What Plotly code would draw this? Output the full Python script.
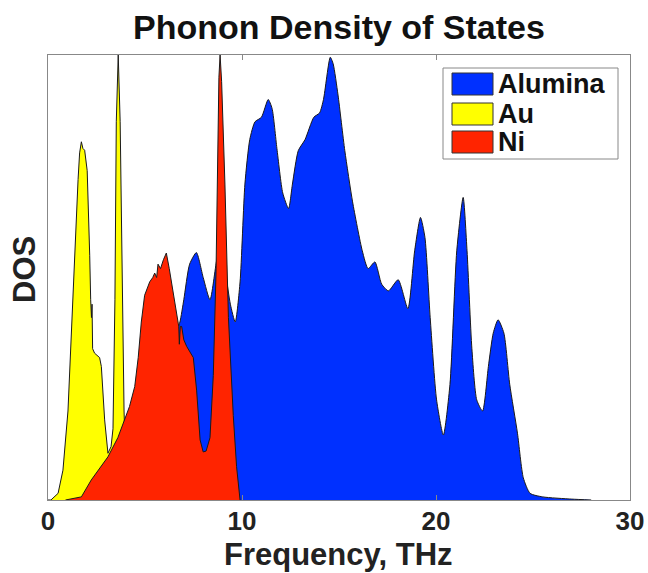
import plotly.graph_objects as go

# ---------------- data ----------------
alumina_freq = [3.5, 4.0, 4.5, 5.0, 5.5, 6.0, 6.5, 6.8, 7.0, 7.3, 7.65, 8.0, 8.35, 8.7, 8.9,
                9.12, 9.4, 9.65, 9.9, 10.15, 10.4, 10.67, 11.0, 11.35, 11.55, 11.8, 12.1,
                12.4, 12.6, 12.9, 13.25, 13.7, 14.0, 14.2, 14.55, 14.7, 14.95, 15.3, 15.7,
                16.2, 16.5, 16.85, 17.2, 17.55, 18.05, 18.55, 18.9, 19.2, 19.43, 19.7, 20.03,
                20.38, 20.72, 21.07, 21.4, 21.6, 21.85, 22.1, 22.4, 22.7, 22.95, 23.2, 23.5,
                23.8, 24.2, 24.5, 24.85, 25.5, 27.0, 28.0]
alumina_dos = [0.0, 0.02, 0.06, 0.12, 0.2, 0.28, 0.36, 0.40, 0.45, 0.53, 0.556, 0.50, 0.45, 0.54, 0.57,
               0.52, 0.44, 0.40, 0.49, 0.71, 0.81, 0.85, 0.86, 0.90, 0.88, 0.79, 0.69,
               0.655, 0.71, 0.785, 0.81, 0.86, 0.87, 0.90, 0.995, 0.98, 0.91, 0.785, 0.67,
               0.56, 0.52, 0.535, 0.485, 0.47, 0.495, 0.43, 0.56, 0.635, 0.59, 0.41, 0.225,
               0.146, 0.26, 0.56, 0.68, 0.56, 0.34, 0.225, 0.20, 0.30, 0.375, 0.405, 0.375,
               0.26, 0.15, 0.05, 0.015, 0.007, 0.002, 0.0]

au_freq = [0.0, 0.15, 0.52, 0.77, 1.03, 1.2, 1.37, 1.55, 1.63, 1.72, 1.8, 1.89, 2.02, 2.1,
           2.15, 2.2, 2.24, 2.27, 2.3, 2.4, 2.66, 2.75, 2.92, 3.09, 3.25, 3.35, 3.45, 3.52,
           3.62, 3.72, 3.82, 3.92, 4.0, 4.1, 4.2]
au_dos = [0.0, 0.0, 0.015, 0.067, 0.2, 0.38, 0.55, 0.72, 0.78, 0.805, 0.79, 0.786, 0.74, 0.64,
          0.55, 0.45, 0.41, 0.44, 0.34, 0.33, 0.32, 0.30, 0.18, 0.105, 0.12, 0.16, 0.45, 0.85,
          1.0, 0.85, 0.5, 0.2, 0.08, 0.02, 0.0]

ni_freq = [0.9, 1.3, 1.72, 2.23, 2.7, 3.09, 3.6, 3.95, 4.2, 4.47, 4.65, 4.81, 4.98, 5.24,
           5.4, 5.5, 5.6, 5.67, 5.8, 5.95, 6.1, 6.25, 6.37, 6.63, 6.74, 6.77, 6.82, 6.89,
           7.0, 7.15, 7.49, 7.66, 7.84, 8.0, 8.15, 8.35, 8.52, 8.66, 8.75, 8.81, 8.87, 8.95,
           9.12, 9.3, 9.55, 9.72, 9.9]
ni_dos = [0.0, 0.004, 0.007, 0.045, 0.075, 0.097, 0.14, 0.18, 0.21, 0.255, 0.32, 0.40, 0.46, 0.49,
          0.50, 0.51, 0.50, 0.53, 0.52, 0.54, 0.555, 0.52, 0.487, 0.42, 0.39, 0.35, 0.39, 0.39,
          0.36, 0.345, 0.32, 0.247, 0.135, 0.108, 0.11, 0.14, 0.28, 0.51, 0.75, 0.95, 1.0, 0.94,
          0.71, 0.41, 0.19, 0.075, 0.0]

series_names = ["Alumina", "Au", "Ni"]
x_ticks = [0, 10, 20, 30]

# ---------------- style ----------------
FONT = "Liberation Sans, Arial, Helvetica, sans-serif"
colors = {"Alumina": "#0030FF", "Au": "#FFFF00", "Ni": "#FF2400"}
edge = "#1a1a1a"
W, H = 648, 573
L, R, T, B = 48, 18, 55, 73

fig = go.Figure()
for name, xs, ys, shape in [("Alumina", alumina_freq, alumina_dos, "spline"),
                            ("Au", au_freq, au_dos, "linear"),
                            ("Ni", ni_freq, ni_dos, "linear")]:
    fig.add_trace(go.Scatter(
        x=xs, y=ys, name=name, mode="lines", fill="tozeroy",
        fillcolor=colors[name],
        line=dict(color=edge, width=1, shape=shape, smoothing=0.6 if shape == "spline" else None),
        showlegend=False, hoverinfo="skip"))

fig.update_layout(
    width=W, height=H,
    margin=dict(l=L, r=R, t=T, b=B, autoexpand=False),
    paper_bgcolor="white", plot_bgcolor="white",
    font=dict(family=FONT, color="#111111"),
    title=dict(text="Phonon Density of States", x=(L + (W - L - R) / 2) / W, xanchor="center",
               y=1 - 27 / H, yanchor="middle", yref="container",
               font=dict(size=34, family=FONT, weight="bold", color="#111111")),
)

fig.update_xaxes(range=[0, 30], tickvals=x_ticks, ticktext=[str(v) for v in x_ticks],
                 ticks="inside", ticklen=5, tickcolor="#888888", tickwidth=1,
                 showline=True, linecolor="#888888", linewidth=1, mirror="ticks",
                 showgrid=False, zeroline=False, automargin=False, ticklabelstandoff=-2,
                 tickfont=dict(size=26, family=FONT, weight="bold", color="#222222"))
fig.update_yaxes(range=[0, 1.0], showticklabels=False, ticks="",
                 showline=True, linecolor="#888888", linewidth=1, mirror=True,
                 showgrid=False, zeroline=False, automargin=False)

pw, ph = W - L - R, H - T - B
def px(xp):
    return (xp - L) / pw
def py(yp):
    return (H - B - yp) / ph

# axis titles
fig.add_annotation(xref="paper", yref="paper", x=px(338), y=py(554), text="Frequency, THz",
                   showarrow=False, xanchor="center", yanchor="middle",
                   font=dict(size=31, family=FONT, weight="bold", color="#222222"))
fig.add_annotation(xref="paper", yref="paper", x=px(24), y=py(270), text="DOS", textangle=-90,
                   showarrow=False, xanchor="center", yanchor="middle",
                   font=dict(size=31, family=FONT, weight="bold", color="#222222"))

# ---------------- legend (drawn manually to match boxed swatches) ----------------
fig.add_shape(type="rect", xref="paper", yref="paper",
              x0=px(443), x1=px(618), y0=py(159), y1=py(68),
              line=dict(color="#888888", width=1), fillcolor="white", layer="above")
row_centers = [84, 114, 142]
for name, yc in zip(series_names, row_centers):
    fig.add_shape(type="rect", xref="paper", yref="paper",
                  x0=px(452), x1=px(493), y0=py(yc + 11), y1=py(yc - 11),
                  line=dict(color="#333333", width=1), fillcolor=colors[name], layer="above")
    fig.add_annotation(xref="paper", yref="paper", x=px(496), y=py(yc), text=name,
                       showarrow=False, xanchor="left", yanchor="middle",
                       font=dict(size=27, family=FONT, weight="bold", color="#111111"))

fig.write_html("out.html")
